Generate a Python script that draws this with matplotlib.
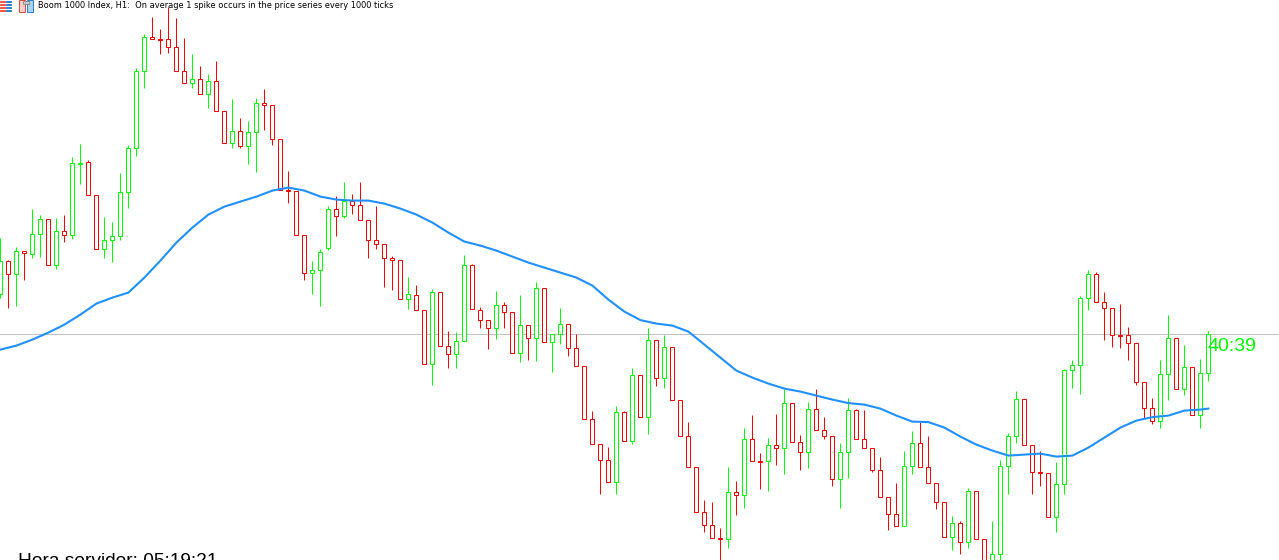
#!/usr/bin/env python
"""
Boom 1000 Index H1 candlestick chart with a moving average.

Price levels are read off the screenshot, so they are kept on a top-down
chart scale (no price axis is visible in the picture).
"""

import matplotlib

matplotlib.use("Agg")
import matplotlib.pyplot as plt
from matplotlib.patches import Rectangle

WIDTH, HEIGHT = 1279, 560
BULL = "#00FF00"
BEAR = "#FF0000"
MA_COLOR = "#1E90FF"

# candle values: body upper edge, body lower edge, high, low, direction
body_top = [
    260, 260, 250, 250, 233, 218, 218, 230, 230, 162, 162, 161, 194, 239, 235, 191,
    147, 70, 36, 36, 38, 38, 46, 70, 78, 78, 80, 80, 110, 130, 130, 131,
    102, 102, 104, 138, 189, 190, 234, 269, 251, 208, 208, 200, 200, 204, 219, 239,
    243, 257, 259, 293, 294, 309, 291, 291, 345, 340, 264, 264, 309, 319, 304, 304,
    311, 324, 324, 287, 287, 333, 323, 323, 347, 365, 418, 443, 459, 411, 411, 374,
    374, 339, 339, 346, 346, 399, 435, 466, 511, 524, 537, 491, 491, 438, 438, 460,
    444, 444, 402, 402, 441, 408, 408, 429, 435, 451, 409, 409, 438, 447, 469, 496,
    513, 465, 442, 442, 466, 482, 501, 522, 522, 490, 490, 538, 553, 465, 435, 398,
    398, 444, 471, 472, 483, 369, 364, 297, 273, 273, 301, 307, 334, 334, 342, 381,
    407, 373, 337, 337, 366, 366, 372, 333,
]
body_bottom = [
    293, 273, 273, 252, 253, 233, 264, 264, 234, 234, 163, 194, 248, 248, 239, 235,
    191, 147, 70, 38, 39, 46, 70, 82, 82, 93, 93, 110, 142, 142, 145, 145,
    131, 104, 138, 189, 190, 234, 272, 272, 269, 247, 215, 215, 204, 219, 239, 243,
    257, 259, 298, 298, 309, 363, 363, 345, 353, 353, 340, 308, 319, 327, 327, 311,
    352, 352, 337, 337, 341, 341, 333, 347, 365, 418, 443, 459, 481, 481, 440, 440,
    416, 416, 377, 377, 399, 435, 466, 511, 524, 537, 538, 538, 494, 494, 460, 461,
    460, 447, 447, 441, 451, 451, 429, 435, 478, 478, 451, 438, 447, 469, 496, 513,
    525, 525, 465, 466, 482, 501, 536, 536, 541, 541, 538, 570, 570, 553, 465, 435,
    444, 471, 472, 516, 516, 483, 369, 364, 297, 301, 307, 334, 335, 342, 381, 407,
    420, 420, 373, 388, 388, 414, 414, 372,
]
highs = [
    237, 259, 246, 250, 208, 214, 218, 217, 214, 156, 143, 159, 194, 216, 221, 172,
    144, 67, 33, 16, 28, 6, 17, 37, 53, 65, 73, 60, 110, 98, 117, 120,
    97, 88, 104, 138, 170, 190, 234, 260, 248, 205, 195, 181, 193, 181, 219, 205,
    243, 255, 259, 276, 284, 309, 288, 291, 330, 331, 254, 263, 306, 319, 290, 301,
    311, 294, 324, 281, 287, 333, 307, 323, 333, 365, 410, 443, 446, 405, 410, 367,
    374, 327, 339, 334, 346, 399, 421, 466, 499, 501, 527, 466, 480, 427, 414, 452,
    437, 413, 388, 402, 434, 401, 388, 416, 435, 442, 397, 408, 409, 447, 456, 496,
    482, 450, 430, 421, 435, 482, 501, 515, 520, 487, 490, 538, 520, 459, 432, 390,
    398, 444, 450, 472, 461, 368, 359, 295, 269, 271, 291, 307, 303, 326, 342, 381,
    397, 359, 314, 337, 344, 366, 358, 330,
]
lows = [
    297, 307, 305, 279, 257, 256, 264, 268, 241, 238, 183, 194, 248, 257, 261, 239,
    207, 155, 87, 38, 53, 52, 70, 82, 87, 93, 107, 110, 142, 147, 147, 163,
    171, 129, 144, 189, 202, 234, 279, 293, 305, 249, 235, 217, 213, 219, 257, 248,
    286, 289, 298, 308, 309, 363, 384, 345, 367, 367, 340, 308, 327, 348, 338, 327,
    352, 361, 359, 360, 341, 371, 343, 355, 365, 418, 443, 493, 481, 493, 440, 443,
    416, 433, 385, 387, 399, 435, 466, 511, 531, 537, 565, 547, 514, 507, 460, 488,
    490, 464, 473, 441, 469, 467, 429, 438, 485, 507, 477, 438, 447, 471, 496, 529,
    525, 525, 473, 466, 482, 508, 536, 549, 553, 547, 538, 570, 570, 565, 493, 442,
    444, 493, 485, 516, 531, 493, 387, 393, 309, 301, 339, 346, 347, 359, 384, 417,
    423, 427, 399, 388, 394, 414, 427, 380,
]
bullish = [
    1, 0, 1, 0, 1, 1, 0, 1, 0, 1, 1, 0, 0, 1, 1, 1,
    1, 1, 1, 0, 0, 0, 0, 0, 1, 0, 1, 0, 0, 1, 0, 1,
    1, 0, 0, 0, 0, 0, 0, 1, 1, 1, 0, 1, 0, 0, 0, 0,
    0, 0, 0, 1, 0, 0, 1, 0, 0, 1, 1, 0, 0, 0, 1, 0,
    0, 1, 0, 1, 0, 1, 1, 0, 0, 0, 0, 0, 0, 1, 0, 1,
    0, 1, 0, 1, 0, 0, 0, 0, 0, 0, 0, 1, 0, 1, 0, 0,
    1, 0, 1, 0, 0, 1, 0, 0, 0, 1, 1, 0, 0, 0, 0, 0,
    0, 1, 1, 0, 0, 0, 0, 1, 0, 1, 0, 0, 1, 1, 1, 1,
    0, 0, 0, 0, 1, 1, 1, 1, 1, 0, 0, 0, 0, 0, 0, 0,
    0, 1, 1, 0, 1, 0, 1, 1,
]

# moving average, read at every other candle
ma_index = list(range(0, 151, 2)) + [151]
ma_values = [
    349, 345, 339, 332, 324, 314, 303, 297, 292, 277, 260, 242, 227, 214, 206, 201,
    196, 190, 187, 190, 196, 199, 200, 200, 203, 208, 214, 222, 232, 241, 245, 250,
    256, 262, 267, 272, 277, 285, 299, 311, 319.5, 323, 325, 331, 344, 357, 370, 377,
    383, 388, 391, 395, 399, 402.5, 404, 408, 415, 421, 421.5, 427, 436, 444, 450, 455,
    454, 453, 456, 455, 447, 437, 427, 420, 416.5, 415, 410, 409, 408,
]

current_price = 333
title = "Boom 1000 Index, H1:  On average 1 spike occurs in the price series every 1000 ticks"
countdown = "40:39"
server_time = "Hora servidor: 05:19:21"


def pixel_rect(fig, x, y, w, h, face, edge=None):
    # header icons are positioned in screen pixels
    fig.add_artist(Rectangle(
        (x / WIDTH, 1 - (y + h) / HEIGHT), w / WIDTH, h / HEIGHT,
        transform=fig.transFigure, facecolor=face, edgecolor=edge or face,
        linewidth=0.72,
    ))


def draw_icons(fig):
    for row in (1, 4, 7, 10):
        pixel_rect(fig, 0, row, 5, 1, "#F0564A")
        pixel_rect(fig, 6, row, 5, 1, "#2F7FD0")
    pixel_rect(fig, 18.5, 0.5, 6, 11, "#FFD0C8", "#E04A3A")
    pixel_rect(fig, 26.5, 0.5, 6, 11, "#A8D4F4", "#2F7FD0")
    pixel_rect(fig, 22.5, 0.5, 6, 3, "#C8C8C8", "#909090")


def main():
    fig = plt.figure(figsize=(WIDTH / 100, HEIGHT / 100), dpi=100, facecolor="white")
    ax = fig.add_axes([0, 0, 1, 1])
    # 8 pixels per candle; small offsets keep snapped 1px lines on the right row/column
    ax.set_xlim(-0.05, (WIDTH - 0.4) / 8)
    ax.set_ylim(HEIGHT - 0.6, -0.6)
    ax.axis("off")

    ax.axhline(current_price, color="#C0C0C0", lw=0.72, zorder=1)

    xs = list(range(len(bullish)))
    colors = [BULL if b else BEAR for b in bullish]
    ax.vlines(xs, highs, lows, colors=colors, lw=0.72, zorder=2)
    heights = [b - t for t, b in zip(body_top, body_bottom)]
    ax.bar(
        xs, heights, bottom=body_top, width=0.5, facecolor="white",
        edgecolor=colors, linewidth=0.72, zorder=3,
    )

    ax.plot(ma_index, ma_values, color=MA_COLOR, lw=1.5, zorder=4)

    draw_icons(fig)
    fig.text(38 / WIDTH, 1 - 5.5 / HEIGHT, title, fontsize=5.92, family="DejaVu Sans",
             color="black", va="center", ha="left")
    fig.text(1208 / WIDTH, 1 - 351 / HEIGHT, countdown, fontsize=14, family="Liberation Sans",
             color=BULL, va="baseline", ha="left")
    fig.text(18 / WIDTH, 1 - 566.5 / HEIGHT, server_time, fontsize=13.75, family="Liberation Sans",
             color="black", va="baseline", ha="left")

    fig.savefig("out.png", dpi=100)
    plt.close(fig)


if __name__ == "__main__":
    main()
